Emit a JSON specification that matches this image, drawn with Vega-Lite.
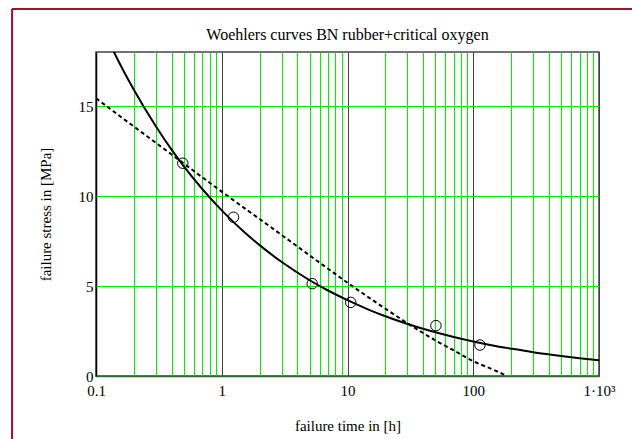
{
  "$schema": "https://vega.github.io/schema/vega-lite/v6.json",
  "width": 503,
  "height": 324,
  "autosize": {"type": "none"},
  "padding": {"left": 96, "top": 52, "right": 33, "bottom": 63},
  "background": "white",
  "title": {
    "text": "Woehlers curves BN rubber+critical oxygen",
    "font": "Liberation Serif",
    "fontSize": 16,
    "fontWeight": "normal",
    "color": "black",
    "anchor": "middle",
    "baseline": "alphabetic",
    "offset": 0,
    "dy": 48
  },
  "datasets": {
    "powerFit": [
      {"t": 0.12, "stress": 18.92},
      {"t": 0.15, "stress": 17.53},
      {"t": 0.2, "stress": 15.9},
      {"t": 0.3, "stress": 13.86},
      {"t": 0.4, "stress": 12.56},
      {"t": 0.5, "stress": 11.65},
      {"t": 0.7, "stress": 10.39},
      {"t": 1, "stress": 9.2},
      {"t": 1.5, "stress": 8.01},
      {"t": 2, "stress": 7.27},
      {"t": 3, "stress": 6.33},
      {"t": 5, "stress": 5.32},
      {"t": 7, "stress": 4.75},
      {"t": 10, "stress": 4.21},
      {"t": 15, "stress": 3.66},
      {"t": 20, "stress": 3.32},
      {"t": 30, "stress": 2.89},
      {"t": 50, "stress": 2.43},
      {"t": 70, "stress": 2.17},
      {"t": 100, "stress": 1.92},
      {"t": 150, "stress": 1.67},
      {"t": 200, "stress": 1.52},
      {"t": 300, "stress": 1.32},
      {"t": 500, "stress": 1.11},
      {"t": 700, "stress": 0.99},
      {"t": 1000, "stress": 0.88}
    ],
    "logFit": [
      {"t": 0.1, "stress": 15.43},
      {"t": 0.2, "stress": 13.86},
      {"t": 0.3, "stress": 12.95},
      {"t": 0.5, "stress": 11.8},
      {"t": 1, "stress": 10.24},
      {"t": 2, "stress": 8.72},
      {"t": 3, "stress": 7.83},
      {"t": 5, "stress": 6.7},
      {"t": 7, "stress": 5.96},
      {"t": 10, "stress": 5.18},
      {"t": 15, "stress": 4.33},
      {"t": 20, "stress": 3.74},
      {"t": 30, "stress": 2.93},
      {"t": 50, "stress": 1.98},
      {"t": 70, "stress": 1.42},
      {"t": 100, "stress": 0.82},
      {"t": 150, "stress": 0.3},
      {"t": 185, "stress": 0}
    ],
    "measured": [
      {"t": 0.49, "stress": 11.82},
      {"t": 1.24, "stress": 8.82},
      {"t": 5.24, "stress": 5.13},
      {"t": 10.6, "stress": 4.09},
      {"t": 50.5, "stress": 2.8},
      {"t": 113, "stress": 1.72}
    ]
  },
  "layer": [
    {
      "data": {"name": "powerFit"},
      "mark": {"type": "line", "color": "black", "strokeWidth": 2, "interpolate": "monotone", "clip": true},
      "encoding": {
        "x": {
          "field": "t",
          "type": "quantitative",
          "scale": {"type": "log", "domain": [0.1, 1000], "nice": false},
          "axis": {
            "title": "failure time in [h]",
            "titleFont": "Liberation Serif",
            "titleFontSize": 15,
            "titleFontWeight": "normal",
            "titleColor": "black",
            "titleY": 54,
            "titleBaseline": "alphabetic",
            "values": [0.1, 0.2, 0.3, 0.4, 0.5, 0.6, 0.7, 0.8, 0.9, 1, 2, 3, 4, 5, 6, 7, 8, 9, 10, 20, 30, 40, 50, 60, 70, 80, 90, 100, 200, 300, 400, 500, 600, 700, 800, 900, 1000],
            "labelExpr": "datum.value == 1000 ? '1·10³' : (indexof([0.1, 1, 10, 100], datum.value) >= 0 ? format(datum.value, '~g') : '')",
            "labelFont": "Liberation Serif",
            "labelFontSize": 15,
            "labelColor": "black",
            "labelPadding": 7,
            "labelOverlap": false,
            "labelFlush": false,
            "labelBound": false,
            "ticks": false,
            "tickSize": 0,
            "grid": true,
            "gridColor": {"condition": {"test": "indexof([0.1, 1, 10, 100, 1000], datum.value) >= 0", "value": "#404040"}, "value": "#00f000"},
            "gridOpacity": 1,
            "gridWidth": 1,
            "domain": true,
            "domainColor": "#2b6e2b",
            "domainWidth": 1.5
          }
        },
        "y": {
          "field": "stress",
          "type": "quantitative",
          "scale": {"domain": [0, 18], "nice": false, "zero": false},
          "axis": {
            "title": "failure stress in [MPa]",
            "titleFont": "Liberation Serif",
            "titleFontSize": 15,
            "titleFontWeight": "normal",
            "titleColor": "black",
            "titleAngle": -90,
            "titleX": -46,
            "titleY": 162,
            "titleBaseline": "alphabetic",
            "values": [0, 5, 10, 15],
            "labelFont": "Liberation Serif",
            "labelFontSize": 15,
            "labelColor": "black",
            "labelPadding": 3,
            "labelOverlap": false,
            "labelFlush": false,
            "ticks": false,
            "tickSize": 0,
            "grid": true,
            "gridColor": "#00f000",
            "gridOpacity": 1,
            "gridWidth": 1,
            "domain": true,
            "domainColor": "black",
            "domainWidth": 1.5
          }
        }
      }
    },
    {
      "data": {"name": "logFit"},
      "mark": {"type": "line", "color": "black", "strokeWidth": 2, "strokeDash": [4, 3], "interpolate": "monotone", "clip": true},
      "encoding": {
        "x": {"field": "t", "type": "quantitative"},
        "y": {"field": "stress", "type": "quantitative"}
      }
    },
    {
      "data": {"name": "measured"},
      "mark": {"type": "point", "shape": "circle", "size": 110, "filled": false, "stroke": "black", "strokeWidth": 1, "opacity": 1},
      "encoding": {
        "x": {"field": "t", "type": "quantitative"},
        "y": {"field": "stress", "type": "quantitative"}
      }
    },
    {
      "data": {"values": [{}]},
      "mark": {"type": "rule", "color": "#a0102c", "strokeWidth": 2, "clip": false},
      "encoding": {
        "x": {"datum": 0.0215, "type": "quantitative"},
        "y": {"datum": 20.39, "type": "quantitative"},
        "y2": {"datum": -8}
      }
    },
    {
      "data": {"values": [{}]},
      "mark": {"type": "rule", "color": "#a0102c", "strokeWidth": 2, "clip": false},
      "encoding": {
        "y": {"datum": 20.39, "type": "quantitative"},
        "x": {"datum": 0.0215, "type": "quantitative"},
        "x2": {"datum": 100000}
      }
    }
  ],
  "config": {
    "font": "Liberation Serif",
    "view": {"stroke": "#444444", "strokeWidth": 1.5}
  }
}
